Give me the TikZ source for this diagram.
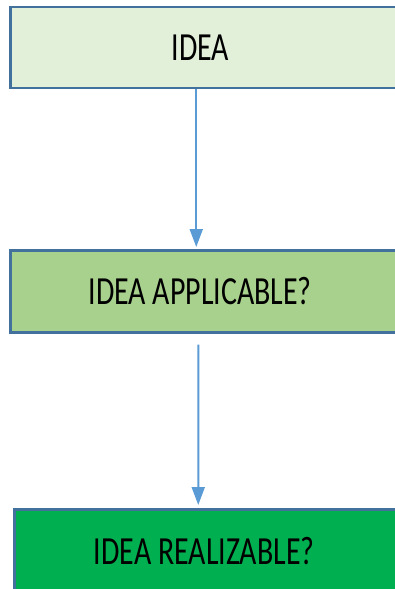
\documentclass[tikz,border=0pt]{standalone}
\usepackage{fontspec}
\newfontfamily\boxfont[FakeStretch=0.75]{Carlito}
\usetikzlibrary{arrows.meta,positioning}
\definecolor{boxborder}{RGB}{65,113,156}
\definecolor{ideafill}{RGB}{226,240,217}
\definecolor{applicfill}{RGB}{169,209,142}
\definecolor{realfill}{RGB}{0,176,80}
\definecolor{flowblue}{RGB}{91,155,213}
\tikzset{
  stepbox/.style={
    draw=boxborder,
    line width=2.5bp,
    anchor=north west,
    minimum width=410bp,
    minimum height=81bp,
    inner sep=0pt,
    font=\boxfont\fontsize{40}{48}\selectfont,
    execute at begin node={\hspace*{-30bp}}
  },
  flow/.style={
    draw=flowblue,
    line width=2bp,
    -{Triangle[width=13bp,length=18bp]}
  }
}

\begin{document}
\begin{tikzpicture}[x=1bp,y=-1bp]

  \path[use as bounding box] (0,0) rectangle (394,589);

  % boxes
  \node[stepbox, fill=ideafill] (idea) at (9,6) {IDEA};
  \node[stepbox, fill=applicfill, minimum height=82bp] (applic) at (9,249)
    {IDEA APPLICABLE?};
  \node[stepbox, fill=realfill, minimum height=84bp] (real) at (13,508)
    {IDEA REALIZABLE?};

  % arrows
  \draw[flow] ([xshift=-19bp]idea.south) -- ([xshift=-19bp,yshift=2bp]applic.north);
  \draw[flow] ([xshift=-17bp,yshift=-11bp]applic.south)
    -- ([xshift=-21bp,yshift=3bp]real.north);

\end{tikzpicture}
\end{document}
